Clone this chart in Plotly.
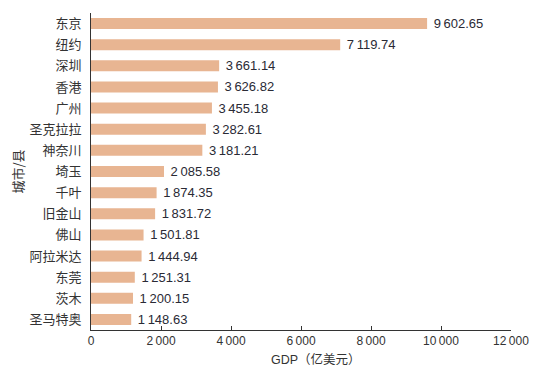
import plotly.graph_objects as go

cities = ["东京", "纽约", "深圳", "香港", "广州", "圣克拉拉", "神奈川", "埼玉", "千叶",
          "旧金山", "佛山", "阿拉米达", "东莞", "茨木", "圣马特奥"]
gdp = [9602.65, 7119.74, 3661.14, 3626.82, 3455.18, 3282.61, 3181.21, 2085.58, 1874.35,
       1831.72, 1501.81, 1444.94, 1251.31, 1200.15, 1148.63]
x_ticks = [0, 2000, 4000, 6000, 8000, 10000, 12000]

font_fam = "Liberation Sans, Arial, Noto Sans CJK SC, sans-serif"

fig = go.Figure(go.Bar(
    x=gdp, y=cities, orientation="h",
    marker=dict(color="#E8B592", line=dict(width=0)),
    width=0.52,
    texttemplate=" %{x:,.2f}", textposition="outside",
    constraintext="none",
    textfont=dict(size=13, color="#2a2a35", family=font_fam),
    cliponaxis=False,
))

fig.update_layout(
    width=531, height=365,
    margin=dict(l=83, r=28, t=5, b=43),
    paper_bgcolor="white", plot_bgcolor="white",
    separators=".\u2009",
    font=dict(family=font_fam, color="#333"),
    showlegend=False,
    xaxis=dict(
        range=[0, 12000], tickvals=x_ticks, tickformat=",d",
        ticks="inside", ticklen=4, tickcolor="#333", tickwidth=1,
        showline=True, linecolor="#333", linewidth=1,
        showgrid=False, zeroline=False, automargin=False,
        tickfont=dict(size=12, color="#333", family=font_fam),
    ),
    yaxis=dict(
        range=[14.5, -0.5], autorange=False,
        showline=True, linecolor="#333", linewidth=1,
        showgrid=False, zeroline=False, ticks="", automargin=False,
        ticklabelstandoff=6,
        tickfont=dict(size=13, color="#333", family="Noto Sans CJK SC, sans-serif"),
        title=dict(text="城市/县", font=dict(size=13, color="#333", family="Noto Sans CJK SC, sans-serif"), standoff=6),
    ),
    annotations=[dict(
        text="GDP（亿美元）", xref="paper", yref="paper", x=0.536, y=-0.092,
        xanchor="center", yanchor="middle", showarrow=False,
        font=dict(size=12.5, color="#333", family=font_fam),
    )],
)

fig.write_html("out.html")
